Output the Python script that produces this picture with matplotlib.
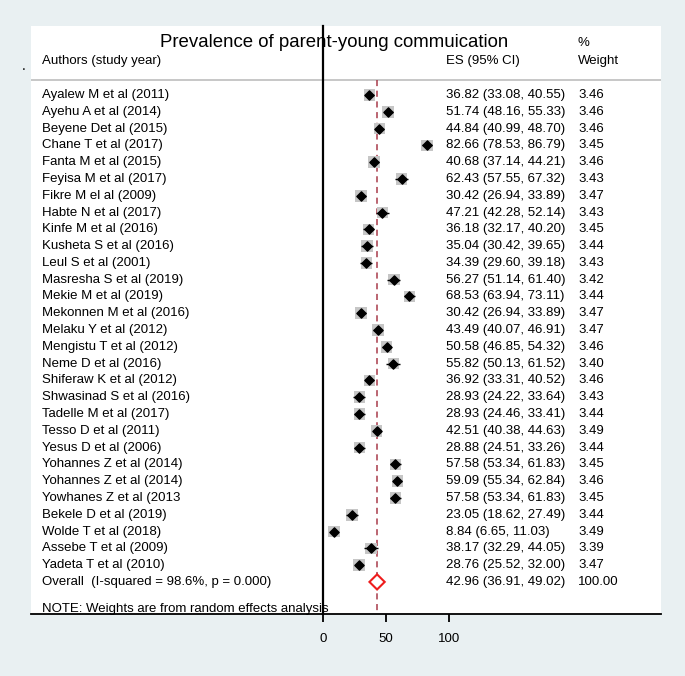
"""
Forest plot of the prevalence of parent-young communication.
"""

import matplotlib.pyplot as plt
import matplotlib.transforms as transforms


STUDIES = [
    'Ayalew M et al (2011)', 'Ayehu A et al (2014)', 'Beyene Det al (2015)',
    'Chane T et al (2017)', 'Fanta M et al (2015)', 'Feyisa M et al (2017)',
    'Fikre M el al (2009)', 'Habte N et al (2017)', 'Kinfe M et al (2016)',
    'Kusheta S et al (2016)', 'Leul S et al (2001)',
    'Masresha S et al (2019)', 'Mekie M et al (2019)',
    'Mekonnen M et al (2016)', 'Melaku Y et al (2012)',
    'Mengistu T et al (2012)', 'Neme D et al (2016)',
    'Shiferaw K et al (2012)', 'Shwasinad S et al (2016)',
    'Tadelle M et al (2017)', 'Tesso D et al (2011)', 'Yesus D et al (2006)',
    'Yohannes Z et al (2014)', 'Yohannes Z et al (2014)',
    'Yowhanes Z et al (2013', 'Bekele D et al (2019)',
    'Wolde T et al (2018)', 'Assebe T et al (2009)', 'Yadeta T et al (2010)']

ES = [36.82, 51.74, 44.84, 82.66, 40.68, 62.43, 30.42, 47.21, 36.18, 35.04,
      34.39, 56.27, 68.53, 30.42, 43.49, 50.58, 55.82, 36.92, 28.93, 28.93,
      42.51, 28.88, 57.58, 59.09, 57.58, 23.05, 8.84, 38.17, 28.76]

LOWER = [33.08, 48.16, 40.99, 78.53, 37.14, 57.55, 26.94, 42.28, 32.17,
         30.42, 29.60, 51.14, 63.94, 26.94, 40.07, 46.85, 50.13, 33.31,
         24.22, 24.46, 40.38, 24.51, 53.34, 55.34, 53.34, 18.62, 6.65, 32.29,
         25.52]

UPPER = [40.55, 55.33, 48.70, 86.79, 44.21, 67.32, 33.89, 52.14, 40.20,
         39.65, 39.18, 61.40, 73.11, 33.89, 46.91, 54.32, 61.52, 40.52,
         33.64, 33.41, 44.63, 33.26, 61.83, 62.84, 61.83, 27.49, 11.03, 44.05,
         32.00]

WEIGHTS = [3.46, 3.46, 3.46, 3.45, 3.46, 3.43, 3.47, 3.43, 3.45, 3.44, 3.43,
           3.42, 3.44, 3.47, 3.47, 3.46, 3.40, 3.46, 3.43, 3.44, 3.49, 3.44,
           3.45, 3.46, 3.45, 3.44, 3.49, 3.39, 3.47]

OVERALL_LABEL = 'Overall  (I-squared = 98.6%, p = 0.000)'
OVERALL_ES = 42.96
OVERALL_LOWER = 36.91
OVERALL_UPPER = 49.02
OVERALL_WEIGHT = 100.00

X_TICKS = [0, 50, 100]

TITLE = 'Prevalence of parent-young commuication'
NOTE = 'NOTE: Weights are from random effects analysis'

BACKGROUND = '#e9f0f2'
FONT = 'Liberation Sans'
FONT_SIZE = 9.5


def main():

    plt.rcParams['font.family'] = [FONT, 'DejaVu Sans']

    fig = plt.figure(figsize=(6.85, 6.76), dpi=100, facecolor=BACKGROUND)
    axes = fig.add_axes([31 / 685, 62 / 676, 630 / 685, 588 / 676])
    axes.set_facecolor('white')

    axes.set_xlim(-231.7, 268.3)
    axes.set_ylim(30.91, -4.11)

    for side in ('top', 'right', 'left'):
        axes.spines[side].set_visible(False)
    axes.spines['bottom'].set_linewidth(1.3)
    axes.set_yticks([])
    axes.set_xticks(X_TICKS)
    axes.tick_params(axis='x', direction='out', length=6, width=1.3,
                     labelsize=FONT_SIZE, pad=8)

    rows = list(range(len(STUDIES)))
    overall_row = len(STUDIES)

    # Null line and overall line.
    axes.plot([0, 0], [-4.11, 30.91], color='black', lw=1.6,
              clip_on=False, zorder=3)
    axes.plot([OVERALL_ES, OVERALL_ES], [-0.9, 30.91], color='#a83a4a',
              lw=1.1, dashes=(4, 3), zorder=1)

    # Study estimates.
    box_sizes = [w * 20 for w in WEIGHTS]
    axes.scatter(ES, rows, s=box_sizes, marker='s', color='#c6c6c6',
                 edgecolors='none', zorder=2)
    axes.hlines(rows, LOWER, UPPER, color='black', lw=1.0, zorder=3)
    axes.scatter(ES, rows, s=22, marker='D', color='black', zorder=4)

    # Overall diamond.
    axes.fill([OVERALL_LOWER, OVERALL_ES, OVERALL_UPPER, OVERALL_ES],
              [overall_row, overall_row - 0.45, overall_row,
               overall_row + 0.45],
              facecolor='white', edgecolor='#ee1c1c', lw=1.5, zorder=4)

    # Header line.
    axes.axhline(-0.9, color='#bdbdbd', lw=1.2, zorder=0)

    text_transform = transforms.blended_transform_factory(
        fig.transFigure, axes.transData)
    label_x = 42 / 685
    es_x = 446 / 685
    weight_x = 578 / 685
    kwargs = dict(transform=text_transform, va='center', fontsize=FONT_SIZE)

    for row, study, es, lower, upper, weight in zip(
            rows, STUDIES, ES, LOWER, UPPER, WEIGHTS):
        axes.text(label_x, row, study, **kwargs)
        axes.text(es_x, row, f'{es:.2f} ({lower:.2f}, {upper:.2f})', **kwargs)
        axes.text(weight_x, row, f'{weight:.2f}', **kwargs)

    axes.text(label_x, overall_row, OVERALL_LABEL, **kwargs)
    axes.text(
        es_x, overall_row,
        f'{OVERALL_ES:.2f} ({OVERALL_LOWER:.2f}, {OVERALL_UPPER:.2f})',
        **kwargs)
    axes.text(weight_x, overall_row, f'{OVERALL_WEIGHT:.2f}', **kwargs)
    axes.text(label_x, 30.6, NOTE, **kwargs)

    # Headers.
    axes.text(334.5 / 685, -3.15, TITLE, transform=text_transform,
              ha='center', va='center', fontsize=13.4)
    axes.text(label_x, -2.0, 'Authors (study year)', **kwargs)
    axes.text(es_x, -2.0, 'ES (95% CI)', **kwargs)
    axes.text(weight_x, -3.1, '%', **kwargs)
    axes.text(weight_x, -2.0, 'Weight', **kwargs)
    fig.text(24 / 685, 1 - 73 / 676, '.', fontsize=10, ha='center',
             va='bottom')

    fig.savefig('out.png', dpi=100, facecolor=BACKGROUND)
    plt.close(fig)


if __name__ == '__main__':
    main()
